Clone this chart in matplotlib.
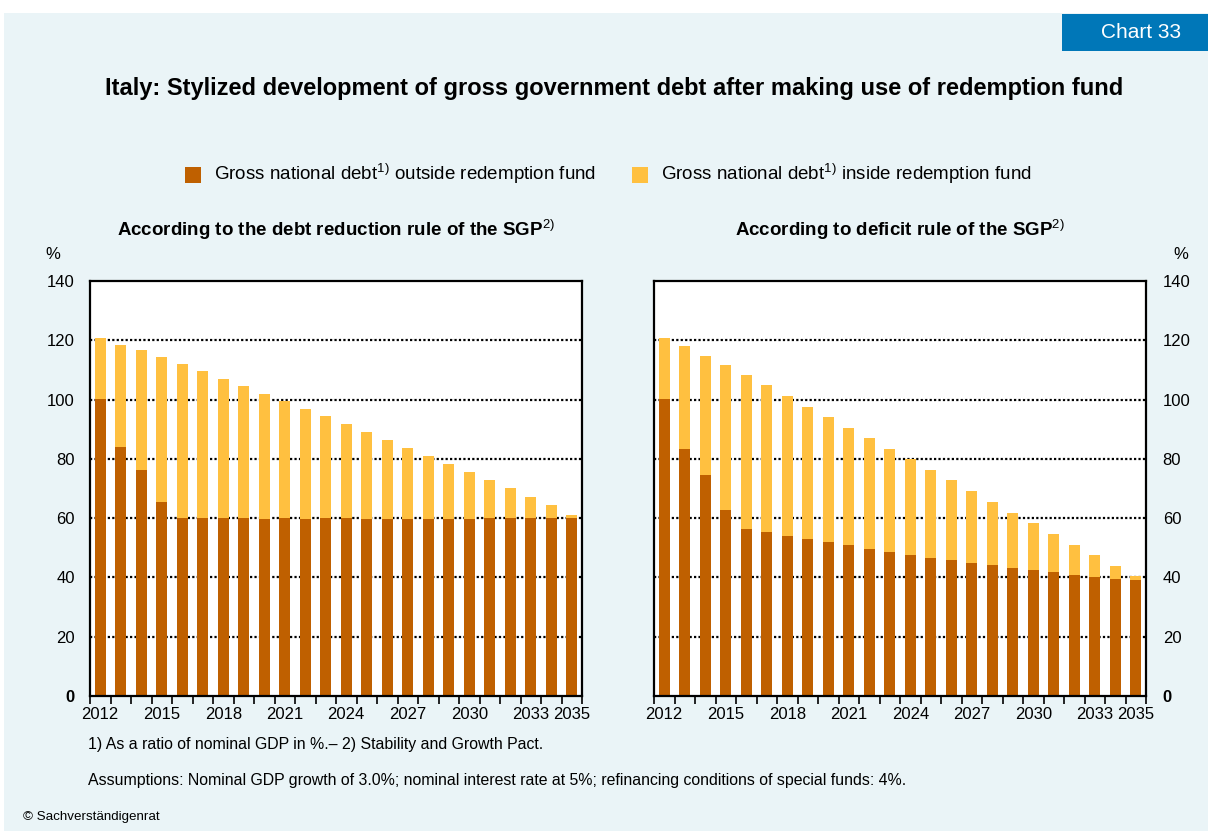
import matplotlib
matplotlib.use("Agg")
import matplotlib.pyplot as plt
from matplotlib.patches import Rectangle
import numpy as np

plt.rcParams["font.family"] = ["Liberation Sans", "DejaVu Sans"]
plt.rcParams["mathtext.fontset"] = "custom"
plt.rcParams["mathtext.rm"] = "Liberation Sans"
plt.rcParams["mathtext.bf"] = "Liberation Sans:bold"

# Data (% of nominal GDP)
years = list(range(2012, 2036))
tick_years = [2012, 2015, 2018, 2021, 2024, 2027, 2030, 2033, 2035]

# Left: debt reduction rule of the SGP
debt_outside_left = [100.1, 83.9, 76.1, 65.3, 60.0, 60.0, 60.0, 60.0, 59.7, 60.0, 59.7, 60.0,
                     60.0, 59.7, 59.7, 59.7, 59.7, 59.7, 59.7, 60.0, 60.0, 60.0, 60.0, 60.0]
debt_total_left = [120.8, 118.4, 116.7, 114.3, 112.0, 109.6, 106.9, 104.5, 101.8, 99.5, 96.8, 94.4,
                   91.7, 89.0, 86.3, 83.6, 80.9, 78.2, 75.4, 72.7, 70.0, 67.0, 64.3, 61.2]

# Right: deficit rule of the SGP
debt_outside_right = [100.1, 83.2, 74.4, 62.6, 56.2, 55.2, 54.1, 52.8, 51.8, 50.8, 49.7, 48.7,
                      47.7, 46.7, 46.0, 45.0, 44.3, 43.3, 42.6, 42.0, 40.9, 40.3, 39.6, 39.3]
debt_total_right = [120.8, 118.1, 114.7, 111.6, 108.3, 104.9, 101.2, 97.4, 94.0, 90.3, 86.9, 83.2,
                    79.8, 76.1, 72.7, 69.0, 65.6, 61.9, 58.2, 54.8, 51.1, 47.7, 44.0, 40.6]

dark = "#BF6000"
light = "#FFC040"
bg = "#EAF4F7"

W, H = 1208, 831
fig = plt.figure(figsize=(W / 100, H / 100), dpi=100, facecolor="white")
fig.patches.append(Rectangle((4 / W, 0), 1, 1 - 13 / H, transform=fig.transFigure,
                             facecolor=bg, edgecolor="none", zorder=-10))
fig.patches.append(Rectangle((1062 / W, 1 - 51 / H), 146 / W, 37 / H, transform=fig.transFigure,
                             facecolor="#0077B8", edgecolor="none", zorder=-5))
fig.text(1141 / W, 1 - 32 / H, "Chart 33", color="white", fontsize=15, ha="center", va="center")

fig.text(614 / W, 1 - 89 / H,
         "Italy: Stylized development of gross government debt after making use of redemption fund",
         fontsize=17, fontweight="bold", ha="center", va="center")

# legend
for x0, label in [(185, "Gross national debt$^{\\mathrm{1)}}$ outside redemption fund"),
                  (632, "Gross national debt$^{\\mathrm{1)}}$ inside redemption fund")]:
    col = dark if x0 == 185 else light
    fig.patches.append(Rectangle((x0 / W, 1 - 183 / H), 16 / W, 16 / H, transform=fig.transFigure,
                                 facecolor=col, edgecolor="none"))
    fig.text((x0 + 29) / W, 1 - 174 / H, label, fontsize=13.5, ha="left", va="center")

x = np.arange(len(years))
panels = [
    (90, debt_outside_left, debt_total_left,
     "According to the debt reduction rule of the SGP$^{\\mathrm{2)}}$", "left"),
    (654, debt_outside_right, debt_total_right,
     "According to deficit rule of the SGP$^{\\mathrm{2)}}$", "right"),
]
for x0, outside, total, subtitle, side in panels:
    ax = fig.add_axes([x0 / W, (H - 696) / H, 492 / W, 415 / H])
    inside = np.array(total) - np.array(outside)
    ax.bar(x, outside, width=0.54, color=dark, zorder=2)
    ax.bar(x, inside, bottom=outside, width=0.54, color=light, zorder=2)
    ax.set_xlim(-0.5, len(years) - 0.5)
    ax.set_ylim(0, 140)
    if side == "right":
        ax.yaxis.tick_right()
    ax.set_yticks(range(0, 141, 20))
    ax.set_yticklabels(["0"] + [str(v) for v in range(20, 141, 20)], fontsize=12)
    t0 = ax.yaxis.get_major_ticks()[0]
    t0.label1.set_fontweight("bold")
    t0.label2.set_fontweight("bold")
    for yv in range(20, 140, 20):
        ax.axhline(yv, color="black", lw=1.6, ls=(0, (1, 1)), zorder=1)
    ax.set_xticks([years.index(y) for y in tick_years])
    ax.set_xticklabels([str(y) for y in tick_years], fontsize=12)
    ax.set_xticks(np.arange(-0.5, len(years)), minor=True)
    ax.tick_params(axis="x", which="major", length=0, pad=8)
    ax.tick_params(axis="x", which="minor", length=6, width=1.2, direction="out")
    if side == "right":
        ax.tick_params(axis="y", length=0, pad=12)
        fig.text(1181 / W, 1 - 255 / H, "%", fontsize=12, ha="center", va="center")
    else:
        ax.tick_params(axis="y", length=0, pad=11)
        fig.text(53 / W, 1 - 255 / H, "%", fontsize=12, ha="center", va="center")
    for s in ax.spines.values():
        s.set_linewidth(1.6)
        s.set_color("black")
    ax.set_facecolor("white")
    fig.text((x0 + 246) / W, 1 - 230 / H, subtitle, fontsize=13.5, fontweight="bold",
             ha="center", va="center")

fig.text(88 / W, 1 - 745 / H, "1) As a ratio of nominal GDP in %.\u2013 2) Stability and Growth Pact.",
         fontsize=11.4, ha="left", va="center")
fig.text(88 / W, 1 - 780 / H,
         "Assumptions: Nominal GDP growth of 3.0%; nominal interest rate at 5%; "
         "refinancing conditions of special funds: 4%.",
         fontsize=11.4, ha="left", va="center")
fig.text(23 / W, 1 - 817 / H, "\u00a9 Sachverst\u00e4ndigenrat", fontsize=9.6, ha="left", va="center")

fig.savefig("out.png", dpi=100, facecolor="white")
